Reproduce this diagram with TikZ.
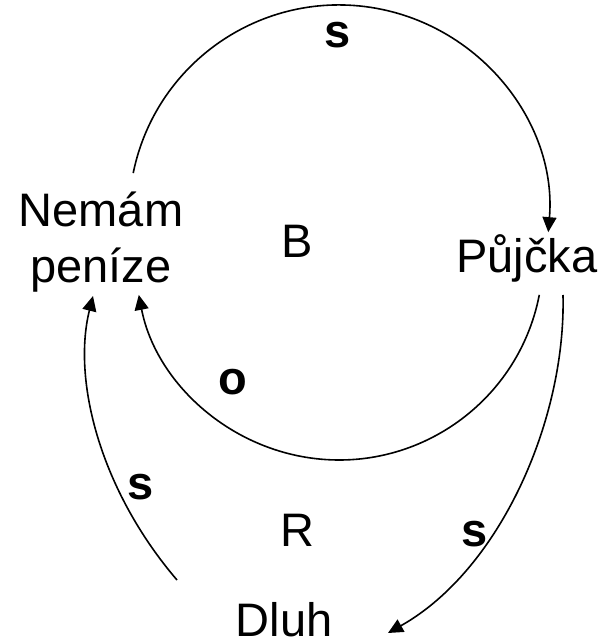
\documentclass[tikz,border=0pt]{standalone}
\usepackage{fontspec}
\setmainfont{Liberation Sans}
\usetikzlibrary{arrows.meta}
\tikzset{
  lbl/.style={inner sep=0pt, anchor=base, font=\fontsize{47}{56}\selectfont},
  pol/.style={inner sep=0pt, anchor=base, font=\fontsize{47}{56}\selectfont\bfseries},
  link/.style={line width=1.6pt, -{Triangle[length=15pt,width=14pt]}},
}
\begin{document}
\begin{tikzpicture}[x=1pt,y=1pt]
\useasboundingbox (0,0) rectangle (601,641);
\node[lbl, align=center] (nem) at (101,358) {Nemám\\peníze};
\node[lbl] (pujcka) at (527,368) {Půjčka};
\node[lbl] (dluh) at (284,5) {Dluh};
\node[lbl] (B) at (297,383) {B};
\node[lbl] (R) at (297,94) {R};
\node[pol] (s1) at (338,593) {s};
\node[pol] (o1) at (233,246) {o};
\node[pol] (s2) at (141,141) {s};
\node[pol] (s3) at (475,94) {s};
% connector ends
\coordinate (nemTop) at (133.2,467.9);
\coordinate (pujBotL) at (539.3,346.1);
\coordinate (pujBotR) at (563,346);
\coordinate (dluhL) at (177,61);
\coordinate (nemBotL) at (93,345);
\coordinate (dluhR) at (388,8);
\draw[link] (nemTop) arc[start angle=168.5, end angle=-4.7, radius=210];
\draw[link] (pujBotL) arc[start angle=-11, end angle=-169, radius=204];
\draw[link] (dluhL) .. controls (100,151) and (72,261) .. (nemBotL);
\draw[link] (pujBotR) .. controls (566,221) and (500,71) .. (dluhR);
\end{tikzpicture}
\end{document}
